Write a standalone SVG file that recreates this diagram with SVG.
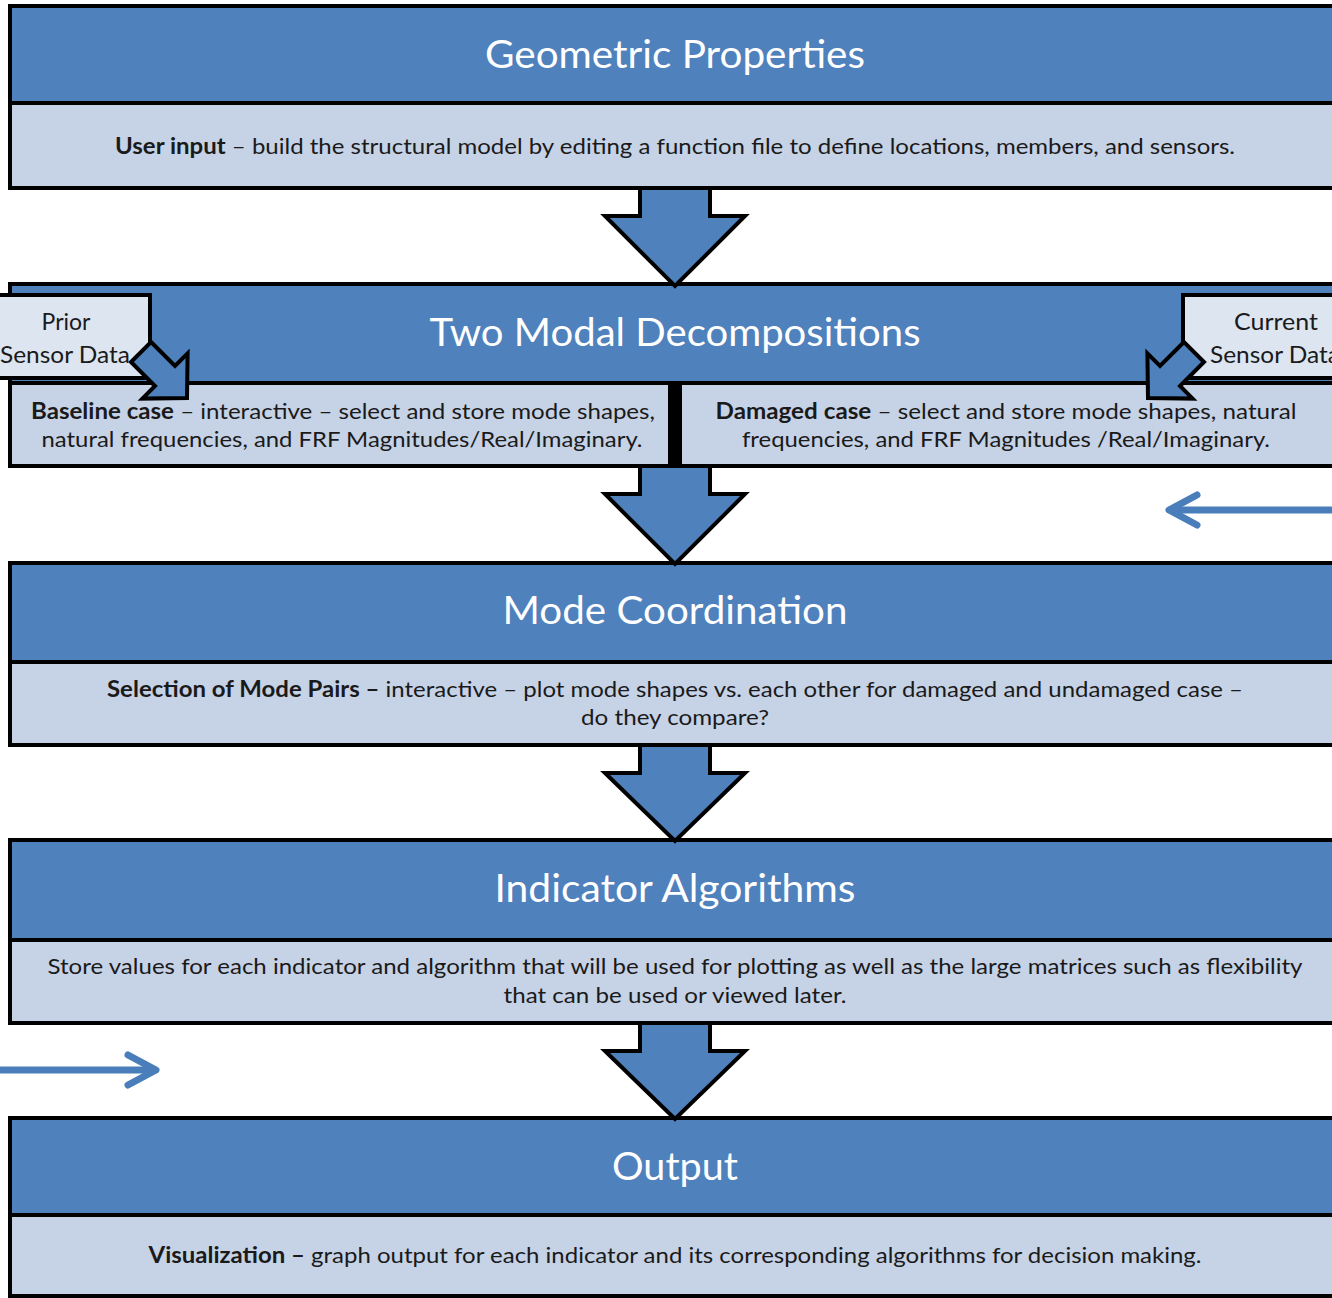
<svg xmlns="http://www.w3.org/2000/svg" width="1332" height="1298" viewBox="0 0 1332 1298">
<style>
.hdr{fill:#4f81bd;stroke:#000;stroke-width:4}
.body{fill:#c6d2e6;stroke:#000;stroke-width:4}
.side{fill:#dde5f1;stroke:#000;stroke-width:4}
.blk{fill:#4f81bd;stroke:#000;stroke-width:4;stroke-linejoin:miter}
.title{font-family:Lato,"Liberation Sans",sans-serif;font-size:38px;fill:#fff;text-anchor:middle}
.txt{font-family:Lato,"Liberation Sans",sans-serif;font-size:22px;fill:#1a1a1a;text-anchor:middle}
.sl{font-family:Lato,"Liberation Sans",sans-serif;font-size:23px;fill:#1a1a1a;text-anchor:middle}
.b{font-weight:bold}
.ba{fill:none;stroke:#4a7ebb;stroke-width:7;stroke-linecap:round;stroke-linejoin:round}
</style>
<rect width="1332" height="1298" fill="#fff"/>

<g id="geometric-properties">
<rect class="hdr" x="10" y="6" width="1340" height="97"/>
<rect class="body" x="10" y="103" width="1340" height="85"/>
<text class="title" x="675" y="68" textLength="380" lengthAdjust="spacingAndGlyphs">Geometric Properties</text>
<text class="txt" x="675" y="154" textLength="1120" lengthAdjust="spacingAndGlyphs"><tspan class="b">User input</tspan> – build the structural model by editing a function file to define locations, members, and sensors.</text>
</g>

<g id="two-modal-decompositions">
<rect class="hdr" x="10" y="284" width="1340" height="99"/>
<rect class="body" x="10" y="383" width="1340" height="83"/>
<rect x="668" y="381" width="14" height="86" fill="#000"/>
<text class="title" x="675" y="346" textLength="491" lengthAdjust="spacingAndGlyphs">Two Modal Decompositions</text>
<text class="txt" x="343" y="419" textLength="624" lengthAdjust="spacingAndGlyphs"><tspan class="b">Baseline case</tspan> – interactive – select and store  mode shapes,</text>
<text class="txt" x="342" y="447" textLength="601" lengthAdjust="spacingAndGlyphs">natural frequencies, and FRF Magnitudes/Real/Imaginary.</text>
<text class="txt" x="1006" y="419" textLength="581" lengthAdjust="spacingAndGlyphs"><tspan class="b">Damaged case</tspan> – select and store  mode shapes, natural</text>
<text class="txt" x="1006" y="447" textLength="528" lengthAdjust="spacingAndGlyphs">frequencies, and FRF Magnitudes /Real/Imaginary.</text>
</g>

<g id="prior-sensor-data">
<rect class="side" x="-20" y="295" width="170" height="83"/>
<text class="sl" x="66" y="330">Prior</text>
<text class="sl" x="65" y="363" textLength="130" lengthAdjust="spacingAndGlyphs">Sensor Data</text>
<polygon class="blk" points="151,342 175,366 187.6,353.4 187,398 142.4,398.6 155,386 131,362"/>
</g>

<g id="current-sensor-data">
<rect class="side" x="1183" y="295" width="190" height="83"/>
<text class="sl" x="1276" y="330" textLength="84" lengthAdjust="spacingAndGlyphs">Current</text>
<text class="sl" x="1275" y="363" textLength="130" lengthAdjust="spacingAndGlyphs">Sensor Data</text>
<polygon class="blk" points="1184,342 1160,366 1147.4,353.4 1148,398 1192.6,398.6 1180,386 1204,362"/>
</g>

<g id="mode-coordination">
<rect class="hdr" x="10" y="563" width="1340" height="99"/>
<rect class="body" x="10" y="662" width="1340" height="83"/>
<text class="title" x="675" y="624" textLength="345" lengthAdjust="spacingAndGlyphs">Mode Coordination</text>
<text class="txt" x="675" y="697" textLength="1136" lengthAdjust="spacingAndGlyphs"><tspan class="b">Selection of Mode Pairs –</tspan> interactive – plot mode shapes vs. each other for damaged and undamaged case –</text>
<text class="txt" x="675" y="725" textLength="188" lengthAdjust="spacingAndGlyphs">do they compare?</text>
</g>

<g id="indicator-algorithms">
<rect class="hdr" x="10" y="840" width="1340" height="100"/>
<rect class="body" x="10" y="940" width="1340" height="83"/>
<text class="title" x="675" y="902" textLength="361" lengthAdjust="spacingAndGlyphs">Indicator Algorithms</text>
<text class="txt" x="675" y="974" textLength="1255" lengthAdjust="spacingAndGlyphs">Store values for each indicator and algorithm that will be used for plotting as well as the large matrices such as flexibility</text>
<text class="txt" x="675" y="1003" textLength="343" lengthAdjust="spacingAndGlyphs">that can be used or viewed later.</text>
</g>

<g id="output">
<rect class="hdr" x="10" y="1118" width="1340" height="97"/>
<rect class="body" x="10" y="1215" width="1340" height="81"/>
<text class="title" x="675" y="1180" textLength="126" lengthAdjust="spacingAndGlyphs">Output</text>
<text class="txt" x="675" y="1263" textLength="1053" lengthAdjust="spacingAndGlyphs"><tspan class="b">Visualization –</tspan> graph output for each indicator and its corresponding algorithms for decision making.</text>
</g>

<g id="connectors">
<polygon class="blk" points="640,188 710,188 710,216 745,216 675,286 605,216 640,216"/>
<polygon class="blk" points="640,466 710,466 710,494 745,494 675,564 605,494 640,494"/>
<polygon class="blk" points="640,745 710,745 710,773 745,773 675,841 605,773 640,773"/>
<polygon class="blk" points="640,1023 710,1023 710,1051 745,1051 675,1119 605,1051 640,1051"/>
<line class="ba" x1="1340" y1="510" x2="1172" y2="510"/>
<polyline class="ba" points="1197,495 1169,510 1197,525"/>
<line class="ba" x1="-5" y1="1070" x2="153" y2="1070"/>
<polyline class="ba" points="128,1055 156,1070 128,1085"/>
</g>
</svg>
